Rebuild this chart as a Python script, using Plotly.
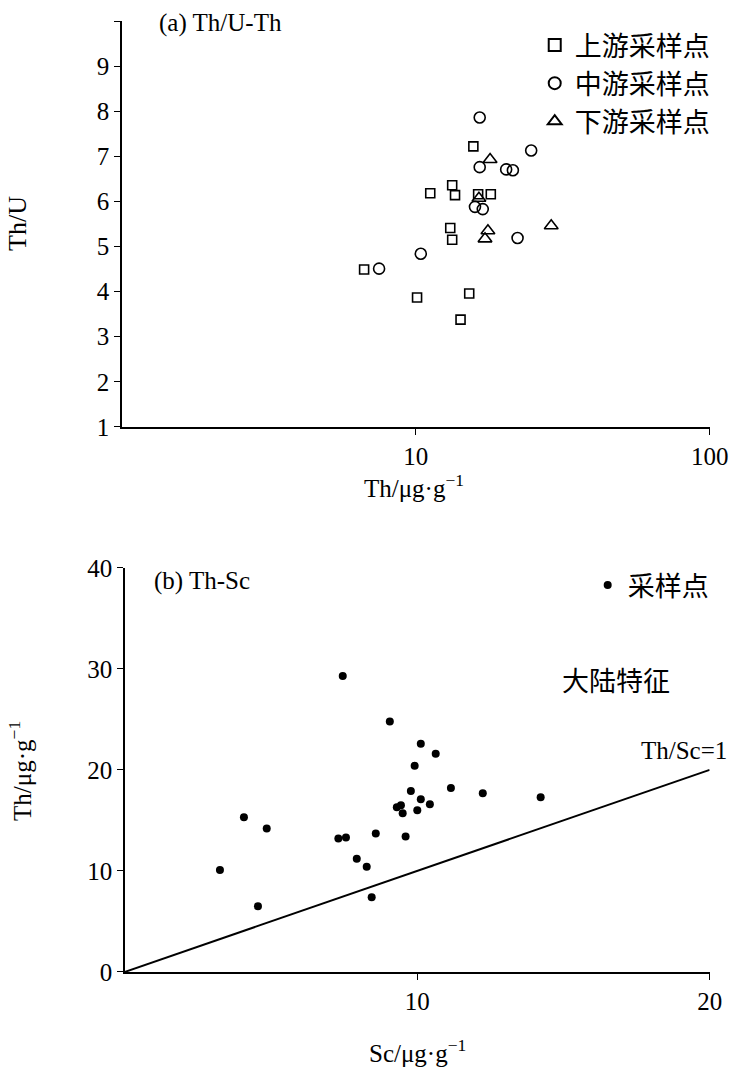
import plotly.graph_objects as go

# (a) Th/U vs Th
up_th = [6.67, 10.1, 11.2, 13.3, 13.6, 13.1, 13.3, 15.2, 14.2, 15.7, 16.3, 18.0]
up_thu = [4.49, 3.87, 6.18, 6.36, 6.14, 5.41, 5.15, 3.96, 3.38, 7.22, 6.16, 6.16]
mid_th = [7.5, 10.4, 16.5, 16.5, 20.3, 21.4, 24.7, 15.9, 16.9, 22.2]
mid_thu = [4.51, 4.84, 7.86, 6.76, 6.71, 6.69, 7.13, 5.88, 5.83, 5.19]
low_th = [17.9, 16.4, 17.6, 17.2, 28.9]
low_thu = [6.93, 6.07, 5.35, 5.17, 5.46]

# (b) Th vs Sc
sc = [7.45, 9.06, 10.12, 10.63, 9.91, 9.78, 11.15, 12.24, 14.22, 10.12, 10.43, 9.44,
      9.3, 9.5, 10.0, 4.07, 4.85, 7.3, 7.56, 8.58, 9.6, 7.93, 8.27, 3.25, 8.44, 4.55]
th = [29.3, 24.8, 22.6, 21.6, 20.4, 17.9, 18.2, 17.7, 17.3, 17.1, 16.6, 16.5,
      16.3, 15.7, 16.0, 15.3, 14.2, 13.2, 13.3, 13.7, 13.4, 11.2, 10.4, 10.1, 7.4, 6.5]
ref_line = [0, 20]

FONT = "Liberation Serif, Noto Sans CJK SC"
W, H = 745, 1075
S = 0.975  # page renders slightly scaled; compensate


def fx(p):
    return min(max((p - 6) / S / W, 0), 1)


def fy(p):
    return min(max(1 - (p - 20) / S / H, 0), 1)


fig = go.Figure()
fig.add_trace(go.Scatter(x=up_th, y=up_thu, mode="markers", name="上游采样点",
                         marker=dict(symbol="square-open", size=9, color="black", line=dict(width=1.6)),
                         xaxis="x", yaxis="y", legend="legend"))
fig.add_trace(go.Scatter(x=mid_th, y=mid_thu, mode="markers", name="中游采样点",
                         marker=dict(symbol="circle-open", size=11, color="black", line=dict(width=1.6)),
                         xaxis="x", yaxis="y", legend="legend"))
fig.add_trace(go.Scatter(x=low_th, y=low_thu, mode="markers", name="下游采样点",
                         marker=dict(symbol="triangle-up-open", size=12, color="black", line=dict(width=1.6)),
                         xaxis="x", yaxis="y", legend="legend"))
fig.add_trace(go.Scatter(x=sc, y=th, mode="markers", name="采样点",
                         marker=dict(symbol="circle", color="black", size=8),
                         xaxis="x2", yaxis="y2", legend="legend2"))
fig.add_trace(go.Scatter(x=ref_line, y=ref_line, mode="lines", showlegend=False,
                         line=dict(color="black", width=2), xaxis="x2", yaxis="y2"))

ax = dict(showline=True, linecolor="black", linewidth=1.5, ticks="outside", ticklen=6,
          tickcolor="black", showgrid=False, zeroline=False, mirror=False,
          tickfont=dict(family=FONT, size=25, color="black"))
fig.update_layout(
    width=W, height=H, paper_bgcolor="white", plot_bgcolor="white",
    margin=dict(l=0, r=0, t=0, b=0), showlegend=True,
    font=dict(family=FONT, color="black"),
    xaxis=dict(ax, type="log", range=[0, 2], tickvals=[10, 100], ticktext=["10", "100"],
               domain=[fx(120), fx(708)], anchor="y"),
    yaxis=dict(ax, range=[1, 10], dtick=1, domain=[fy(426), fy(18)], anchor="x"),
    xaxis2=dict(ax, range=[0, 20], tickvals=[10, 20], domain=[fx(123), fx(708)], anchor="y2"),
    yaxis2=dict(ax, range=[0, 40], dtick=10, domain=[fy(971), fy(567)], anchor="x2"),
    legend=dict(x=fx(533), y=fy(12), xanchor="left", yanchor="top",
                font=dict(family=FONT, size=27), bgcolor="rgba(0,0,0,0)",
                itemsizing="constant", tracegroupgap=0),
    legend2=dict(x=fx(586), y=fy(560), xanchor="left", yanchor="top",
                 font=dict(family=FONT, size=27), bgcolor="rgba(0,0,0,0)"),
)

ann = [
    ("(a) Th/U-Th", 155, 22, 0, 25, "left"),
    ("Th/U", 16, 222, -90, 26, "center"),
    ("Th/μg·g<sup>−1</sup>", 412, 485, 0, 25, "center"),
    ("(b) Th-Sc", 150, 580, 0, 25, "left"),
    ("Th/μg·g<sup>−1</sup>", 18, 770, -90, 25, "center"),
    ("Sc/μg·g<sup>−1</sup>", 416, 1050, 0, 25, "center"),
    ("大陆特征", 614, 681, 0, 27, "center"),
    ("Th/Sc=1", 682, 750, 0, 25, "center"),
]
for text, px, py, ang, size, al in ann:
    fig.add_annotation(text=text, x=fx(px), y=fy(py), xref="paper", yref="paper",
                       showarrow=False, textangle=ang, xanchor=al, yanchor="middle",
                       font=dict(family=FONT, size=size, color="black"))

fig.write_html("out.html")
